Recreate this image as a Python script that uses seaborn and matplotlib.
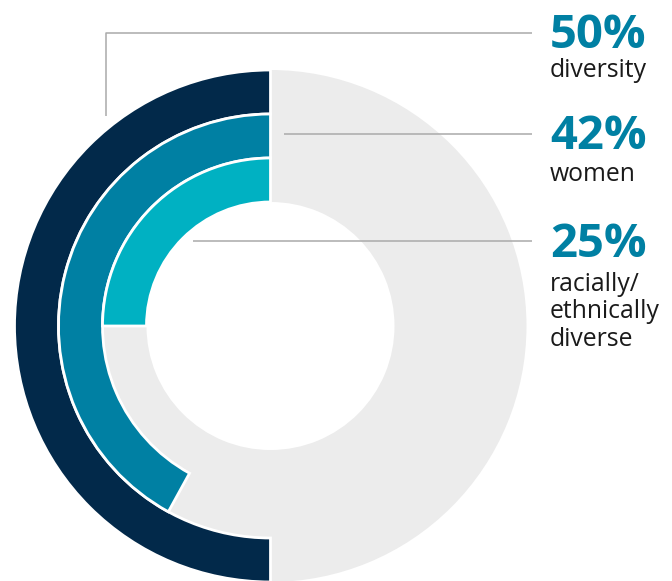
import matplotlib
matplotlib.use("Agg")
import matplotlib.pyplot as plt
import seaborn as sns

# Data
# ====
rings = ["diversity", "women", "racially/\nethnically\ndiverse"]
values = [50, 42, 25]
value_labels = ["50%", "42%", "25%"]
ring_colors = ["#02294A", "#0080A3", "#00B1C2"]

W, H = 672, 581
cx, cy = 270.5, H - 326
r_outer = 256
r_hole = 124
ring_w = (r_outer - r_hole) / 3

sns.set_theme(style="white")
plt.rcParams["font.family"] = ["Open Sans", "DejaVu Sans"]

fig = plt.figure(figsize=(W / 100, H / 100), dpi=100)
ax = fig.add_axes([0, 0, 1, 1])

# gray background ring
ax.pie([100], radius=r_outer, center=(cx, cy), colors=["#ECECEC"],
       wedgeprops=dict(width=r_outer - r_hole, linewidth=0))

# colored rings, outside in
for i, (v, c) in enumerate(zip(values, ring_colors)):
    r = r_outer - i * ring_w
    wedges, _ = ax.pie([v, 100 - v], radius=r, center=(cx, cy),
                       startangle=90, counterclock=True,
                       colors=[c, "none"],
                       wedgeprops=dict(width=ring_w, edgecolor="white", linewidth=2))
    wedges[1].set_visible(False)

ax.set_xlim(0, W)
ax.set_ylim(0, H)
ax.set_aspect("equal")
ax.axis("off")

# leader lines
line_kw = dict(color="#AAAAAA", linewidth=1.1, solid_capstyle="butt")
ax.plot([105.5, 105.5, 532], [H - 116, H - 32.5, H - 32.5], **line_kw)
ax.plot([284, 532], [H - 134, H - 134], **line_kw)
ax.plot([193, 532], [H - 241, H - 241], **line_kw)

# labels
tx = 550
num_base = [47.7, 149, 256.7]
for lab, base in zip(value_labels, num_base):
    ax.text(tx, H - base, lab, fontsize=34, fontweight="bold", color="#0080A3",
            ha="left", va="baseline")

sub_lines = [["diversity"], ["women"], ["racially/", "ethnically", "diverse"]]
sub_base = [77.3, 181, 291]
for lines, base in zip(sub_lines, sub_base):
    for j, s in enumerate(lines):
        ax.text(tx, H - (base + j * 27.3), s, fontsize=17.8, color="#1A1A1A",
                ha="left", va="baseline")

fig.savefig("out.png", dpi=100)
